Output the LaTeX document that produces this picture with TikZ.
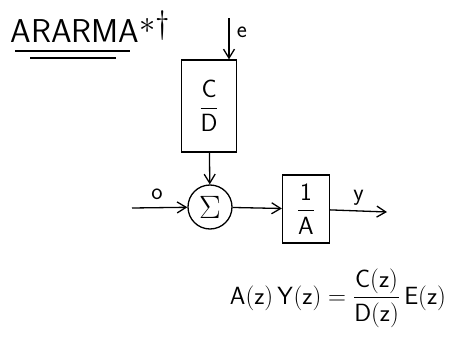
\documentclass[tikz,border=0pt]{standalone}
\usepackage{amsmath}
\usepackage{graphicx}
\usetikzlibrary{arrows.meta}
\begin{document}
\begin{tikzpicture}[x=1pt,y=-1pt,line width=1.3pt,
  >={Straight Barb[length=9pt,width=11pt]},
  blk/.style={draw,inner sep=2pt,font=\fontsize{26}{30}\sffamily},
  lbl/.style={font=\fontsize{24}{28}\sffamily}]
  \useasboundingbox (0,0) rectangle (451,351);
  % title with double underline
  \node[anchor=west,font=\fontsize{33}{36}\sffamily,inner sep=0pt] (title) at (10,27) {ARARMA\raisebox{9pt}{\scalebox{1.3}{$*\dagger$}}};
  \draw (15,51) -- (130,51);
  \draw (30,58) -- (116,58);
  % blocks
  \node[blk,minimum width=55,minimum height=92] (cd) at (209,106) {$\dfrac{\mathsf{C}}{\mathsf{D}}$};
  \node[draw,circle,inner sep=0pt,minimum size=44,font=\fontsize{24}{28}\selectfont] (sum) at (210,207) {\scalebox{1.3}{$\Sigma$}};
  \node[blk,minimum width=47,minimum height=68] (ia) at (306,209) {$\dfrac{\mathsf{1}}{\mathsf{A}}$};
  \coordinate (ein) at (229,18);
  \coordinate (u) at (132,208);
  \coordinate (y) at (387,212);
  % connectors
  \draw[->] (ein) -- (ein |- cd.north) node[pos=.35,right,xshift=4pt,lbl]{e};
  \draw[->] (cd) -- (sum);
  \draw[->] (u) -- (sum) node[pos=.45,above,yshift=4pt,lbl]{o};
  \draw[->] (sum) -- (ia);
  \draw[->] (ia) -- (y) node[midway,above,yshift=2pt,lbl]{y};
  % transfer relation
  \node[font=\fontsize{24}{28}\sffamily] (eq) at (338,298)
    {$\mathsf{A}(\mathsf{z})\,\mathsf{Y}(\mathsf{z})=\dfrac{\mathsf{C}(\mathsf{z})}{\mathsf{D}(\mathsf{z})}\,\mathsf{E}(\mathsf{z})$};
\end{tikzpicture}
\end{document}
